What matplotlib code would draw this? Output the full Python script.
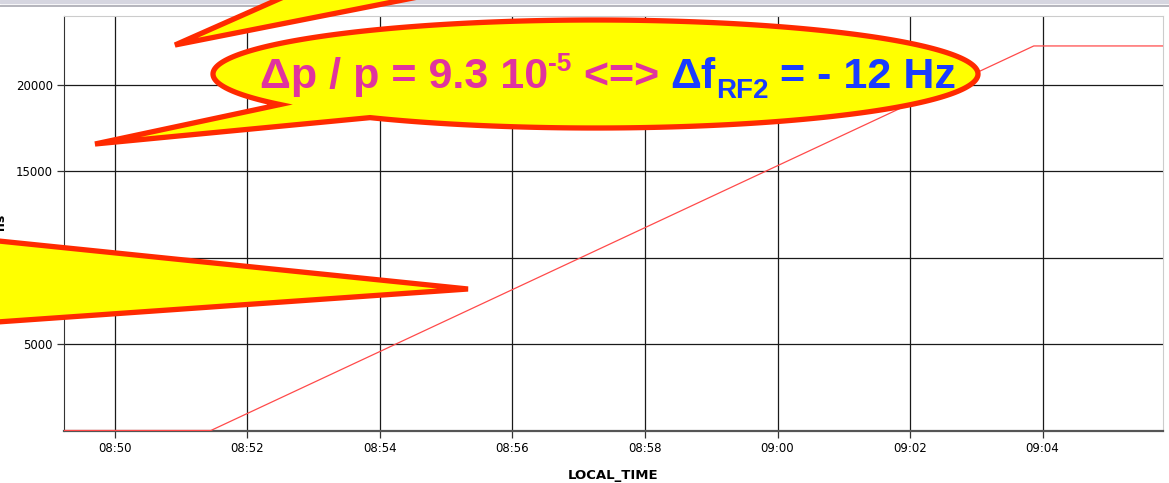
import matplotlib
matplotlib.use("Agg")
import matplotlib.pyplot as plt
import matplotlib.dates as mdates
from matplotlib.patches import Polygon, Rectangle
from matplotlib.lines import Line2D
import numpy as np
import pandas as pd

W, H = 1169, 483

# data
times = ["2000-01-01 08:49:10", "2000-01-01 08:51:27", "2000-01-01 09:03:52", "2000-01-01 09:05:55"]
values = [30, 30, 22240, 22240]
x_ticks = ["08:50", "08:52", "08:54", "08:56", "08:58", "09:00", "09:02", "09:04"]
y_ticks = [5000, 10000, 15000, 20000]
x_start, x_end = "2000-01-01 08:49:14", "2000-01-01 09:05:49"
y_top = 23970

t = pd.to_datetime(times)
tick_pos = pd.to_datetime(["2000-01-01 " + s for s in x_ticks])


def px(x, y):
    # picture pixel (y down) -> figure fraction
    return (x / W, 1 - y / H)


fig = plt.figure(figsize=(W / 100, H / 100), dpi=100)
ax = fig.add_axes([64 / W, (H - 431) / H, (1163 - 64) / W, (431 - 16) / H])

ax.plot(t, values, color="#ff4a4a", lw=0.9, zorder=3)
ax.set_xlim(pd.Timestamp(x_start), pd.Timestamp(x_end))
ax.set_ylim(0, y_top)
ax.set_xticks(tick_pos)
ax.xaxis.set_major_formatter(mdates.DateFormatter("%H:%M"))
ax.set_yticks(y_ticks)
ax.grid(True, color="#1a1a1a", lw=0.9)
ax.tick_params(length=5, width=0.9, color="#333333", labelsize=8.5, pad=3)
ax.set_xlabel("LOCAL_TIME", fontsize=9.5, fontweight="bold", labelpad=10)
ax.set_ylabel("ns", fontsize=9, fontweight="bold")
ax.yaxis.set_label_coords(-0.052, 0.505)
ax.spines["bottom"].set_color("#555555")
ax.spines["bottom"].set_linewidth(1.6)
ax.spines["left"].set_color("#333333")
ax.spines["top"].set_color("#cccccc")
ax.spines["right"].set_color("#cccccc")

# window frame at the top
fig.patches.append(Rectangle(px(0, 2.5), 1, 2.5 / H, transform=fig.transFigure,
                             color="#d6d6e0", zorder=1))
fig.lines.append(Line2D([0, 1], [1 - 6 / H] * 2, transform=fig.transFigure,
                        color="#a8a8b0", lw=1.2))

yellow = "#ffff00"
red = "#ff2a00"
lw_c = 3.8

# upper spike of a callout above the picture
spike_top = [px(175, 45), px(322, -20), px(504, -20)]
fig.patches.append(Polygon(spike_top, closed=True, transform=fig.transFigure,
                           fc=yellow, ec=red, lw=lw_c, joinstyle="miter", zorder=5))

# left callout pointing into the plot
spike_left = [px(-60, 235), px(468, 289), px(-60, 326)]
fig.patches.append(Polygon(spike_left, closed=True, transform=fig.transFigure,
                           fc=yellow, ec=red, lw=lw_c, joinstyle="miter", zorder=5))

# big elliptical callout with its tail
cx, cy, a, b = 595.5, 74, 382.5, 54
ang = np.linspace(0, 2 * np.pi, 400)
ex = cx + a * np.cos(ang)
ey = cy + b * np.sin(ang)   # y down: sin>0 is bottom side
pts = []
inserted = False
for xx, yy in zip(ex, ey):
    if yy > cy and 280 < xx < 370:
        if not inserted:
            pts.append(px(370, cy + b * np.sqrt(1 - ((370 - cx) / a) ** 2)))
            pts.append(px(95, 144))
            pts.append(px(280, cy + b * np.sqrt(1 - ((280 - cx) / a) ** 2)))
            inserted = True
        continue
    pts.append(px(xx, yy))
fig.patches.append(Polygon(pts, closed=True, transform=fig.transFigure,
                           fc=yellow, ec=red, lw=lw_c, joinstyle="miter", zorder=6))

# callout text, placed piece by piece
magenta = "#e0339f"
blue = "#1a3cff"
fam = ["Liberation Sans", "DejaVu Sans"]
base_y = 88
big = 31
pieces = [
    ("\u0394p / p = 9.3 10", magenta, big, 0),
    ("-5", magenta, 19, -17),
    (" <=> ", magenta, big, 0),
    ("\u0394f", blue, big, 0),
    ("RF2", blue, 20, 10),
    (" = - 12 Hz", blue, big, 0),
]
renderer = fig.canvas.get_renderer()
x_cur = 260
for s, c, size, dy in pieces:
    txt = fig.text(*px(x_cur, base_y + dy), s, color=c, fontsize=size,
                   fontweight="bold", family=fam, ha="left", va="baseline", zorder=10)
    bb = txt.get_window_extent(renderer)
    x_cur = bb.x1

fig.savefig("out.png", dpi=100)
